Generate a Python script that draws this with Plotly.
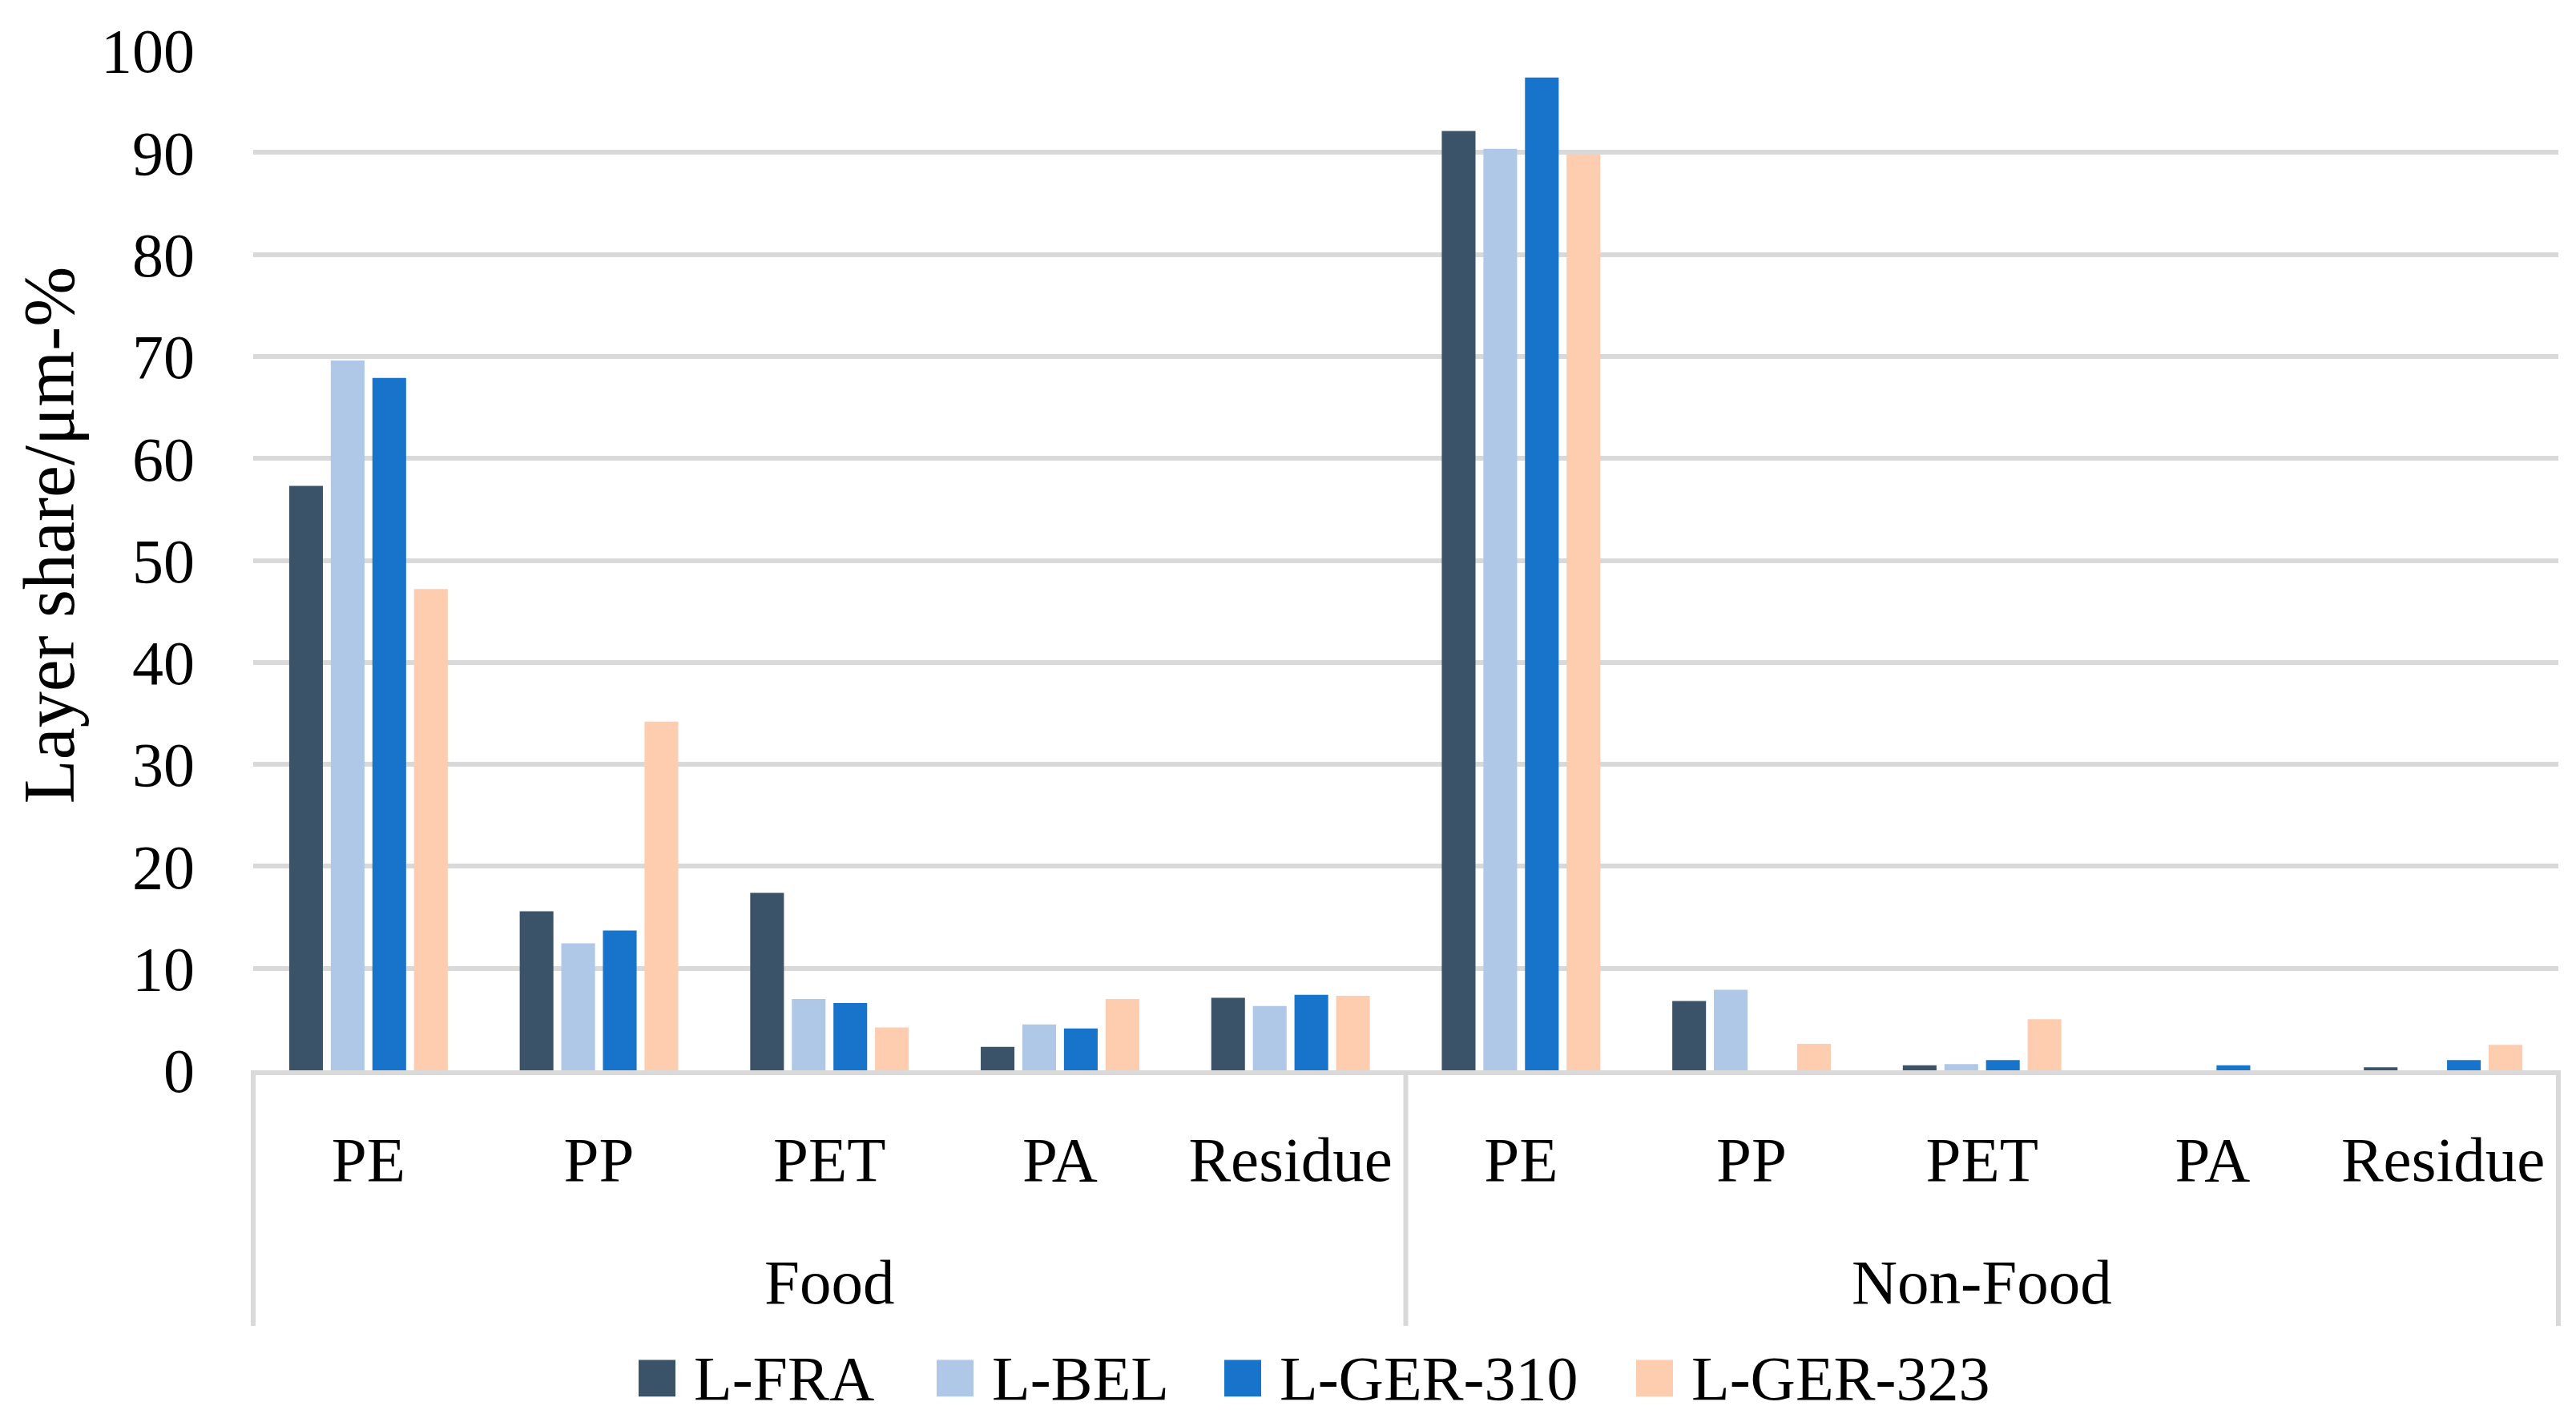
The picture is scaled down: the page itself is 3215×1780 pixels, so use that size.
import plotly.graph_objects as go

# ---------------- data ----------------
groups = ["Food", "Non-Food"]
materials = ["PE", "PP", "PET", "PA", "Residue"]
series_names = ["L-FRA", "L-BEL", "L-GER-310", "L-GER-323"]

l_fra = [57.3, 15.6, 17.4, 2.3, 7.1, 92.1, 6.8, 0.5, 0.0, 0.3]
l_bel = [69.6, 12.45, 7.0, 4.5, 6.3, 90.35, 7.9, 0.6, 0.0, 0.0]
l_ger_310 = [67.9, 13.7, 6.6, 4.1, 7.4, 97.35, 0.0, 1.0, 0.5, 1.0]
l_ger_323 = [47.2, 34.2, 4.2, 7.0, 7.3, 89.8, 2.6, 5.0, 0.0, 2.5]

y_tick_values = [0, 10, 20, 30, 40, 50, 60, 70, 80, 90, 100]
y_title = "Layer share/μm-%"

# ---------------- styling ----------------
colors = ["#3B5369", "#AFC8E8", "#1874CA", "#FECCAE"]
FONT = "Liberation Serif"
GRID = "#D9D9D9"
PAGE_OFF = 8  # default body margin of the html page
W, H = 3215 - PAGE_OFF, 1780 - PAGE_OFF
ML, MR, MT, MB = 316 - PAGE_OFF, 22, 51 - PAGE_OFF, 444
PW, PH = W - ML - MR, H - MT - MB
PLOT_LEFT = ML + PAGE_OFF
PLOT_BOTTOM = MT + PAGE_OFF + PH


def px_x(px):
    return (px - PLOT_LEFT) / PW


def px_y(py):
    return (PLOT_BOTTOM - py) / PH


cat_keys = [f"{g}|{m}" for g in groups for m in materials]
tick_text = [m for g in groups for m in materials]
series_values = [l_fra, l_bel, l_ger_310, l_ger_323]

fig = go.Figure()
for name, vals, col in zip(series_names, series_values, colors):
    fig.add_trace(go.Bar(x=cat_keys, y=vals, name=name, marker=dict(color=col, line=dict(width=0)),
                         showlegend=False))

annotations = []
# group labels
for gi, g in enumerate(groups):
    mid = cat_keys[gi * len(materials) + len(materials) // 2]
    annotations.append(dict(x=mid, xref="x", y=px_y(1603), yref="paper", text=g, showarrow=False,
                            xanchor="center", yanchor="middle",
                            font=dict(family=FONT, size=79, color="black")))

# y title
annotations.append(dict(x=px_x(61), xref="paper", y=px_y(662), yref="paper", text=y_title,
                        textangle=-90, showarrow=False, xanchor="center", yanchor="middle",
                        font=dict(family=FONT, size=90, color="black")))

shapes = []
# group dividers below the axis
for xd in [0.0, 0.5, 1.0]:
    shapes.append(dict(type="line", xref="paper", yref="paper", x0=xd, x1=xd, y0=0, y1=px_y(1658),
                       line=dict(color=GRID, width=6)))

# manual legend (large square swatches)
sq_left = [797, 1169, 1528, 2042]
sq_size = 46
legend_mid = 1724
for name, col, xl in zip(series_names, colors, sq_left):
    shapes.append(dict(type="rect", xref="paper", yref="paper",
                       x0=px_x(xl), x1=px_x(xl + sq_size),
                       y0=px_y(legend_mid - sq_size / 2), y1=px_y(legend_mid + sq_size / 2),
                       fillcolor=col, line=dict(width=0)))
    annotations.append(dict(x=px_x(xl + sq_size + 21), xref="paper", y=px_y(legend_mid), yref="paper",
                            text=name, showarrow=False, xanchor="left", yanchor="middle",
                            font=dict(family=FONT, size=78, color="black")))

fig.update_layout(
    width=W, height=H,
    margin=dict(l=ML, r=MR, t=MT, b=MB),
    paper_bgcolor="white", plot_bgcolor="white",
    barmode="group", bargap=0.278, bargroupgap=0.19,
    font=dict(family=FONT, size=78, color="black"),
    showlegend=False,
    annotations=annotations,
    shapes=shapes,
    xaxis=dict(type="category", categoryorder="array", categoryarray=cat_keys,
               tickmode="array", tickvals=cat_keys, ticktext=tick_text,
               showgrid=False, zeroline=False, ticks="",
               showline=True, linecolor=GRID, linewidth=6,
               tickfont=dict(family=FONT, size=79, color="black"),
               ticklabelstandoff=37),
    yaxis=dict(range=[0, 100], tickmode="array", tickvals=y_tick_values,
               showgrid=True, gridcolor=GRID, gridwidth=6, zeroline=False,
               showline=False, ticks="",
               tickfont=dict(family=FONT, size=78, color="black"),
               ticklabelstandoff=72),
)

fig.write_html("out.html")
